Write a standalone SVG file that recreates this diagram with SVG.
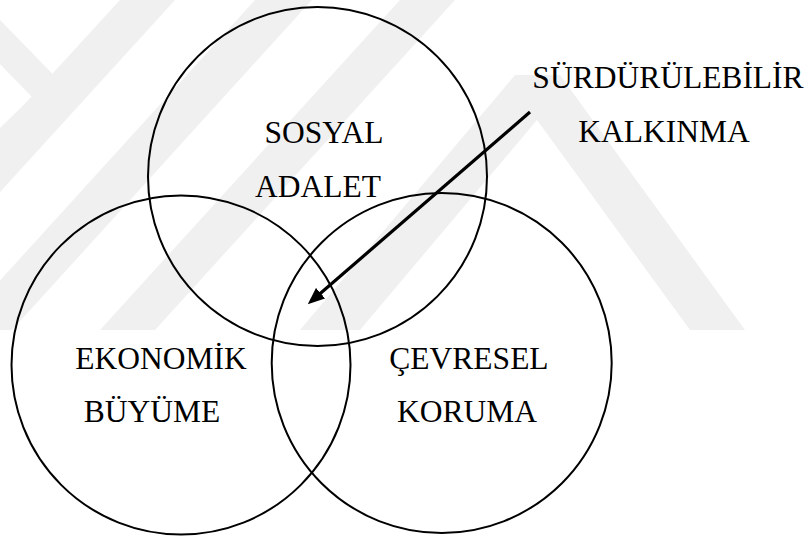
<svg xmlns="http://www.w3.org/2000/svg" width="811" height="538" viewBox="0 0 811 538">
  <style>
    .wm { fill: #f0f0f0; }
    .circle { fill: none; stroke: #000; stroke-width: 2; }
    .lbl { font-family: "Liberation Serif", "Times New Roman", serif; font-size: 31.5px; fill: #000; text-anchor: middle; }
    .conn { stroke: #000; stroke-width: 3.2; fill: none; }
  </style>
  <defs>
    <marker id="arrow" viewBox="0 0 17 14" refX="7" refY="7" markerWidth="17" markerHeight="14" markerUnits="userSpaceOnUse" orient="auto">
      <path d="M0,0 L17,7 L0,14 z" fill="#000"/>
    </marker>
  </defs>
  <rect x="0" y="0" width="811" height="538" fill="#fff"/>
  <g id="watermark">
    <polygon class="wm" points="0,20 75,97 0,172 0,128 32,97 0,64"/>
    <polygon class="wm" points="120,0 175,0 0,192 0,131"/>
    <polygon class="wm" points="255,0 312,0 12,330 -45,330"/>
    <polygon class="wm" points="400,0 455,0 155,330 100,330"/>
    <polygon class="wm" points="515,75 560,75 745,330 690,330 537,120 360,330 300,330"/>
  </g>
  <g id="node-sosyal">
    <circle class="circle" cx="317.5" cy="176.5" r="169.5"/>
    <text class="lbl" x="324" y="143">SOSYAL</text>
    <text class="lbl" x="318" y="197">ADALET</text>
  </g>
  <g id="node-ekonomik">
    <circle class="circle" cx="181" cy="365" r="169.5"/>
    <text class="lbl" x="161" y="369">EKONOMİK</text>
    <text class="lbl" x="152" y="422">BÜYÜME</text>
  </g>
  <g id="node-cevresel">
    <circle class="circle" cx="441.7" cy="363" r="170"/>
    <text class="lbl" x="469" y="369">ÇEVRESEL</text>
    <text class="lbl" x="467" y="422">KORUMA</text>
  </g>
  <g id="node-surdurulebilir">
    <text class="lbl" x="668" y="88">SÜRDÜRÜLEBİLİR</text>
    <text class="lbl" x="664" y="142">KALKINMA</text>
  </g>
  <g id="connectors">
    <line class="conn" x1="530" y1="112" x2="315.3" y2="297.8" marker-end="url(#arrow)"/>
  </g>
</svg>
